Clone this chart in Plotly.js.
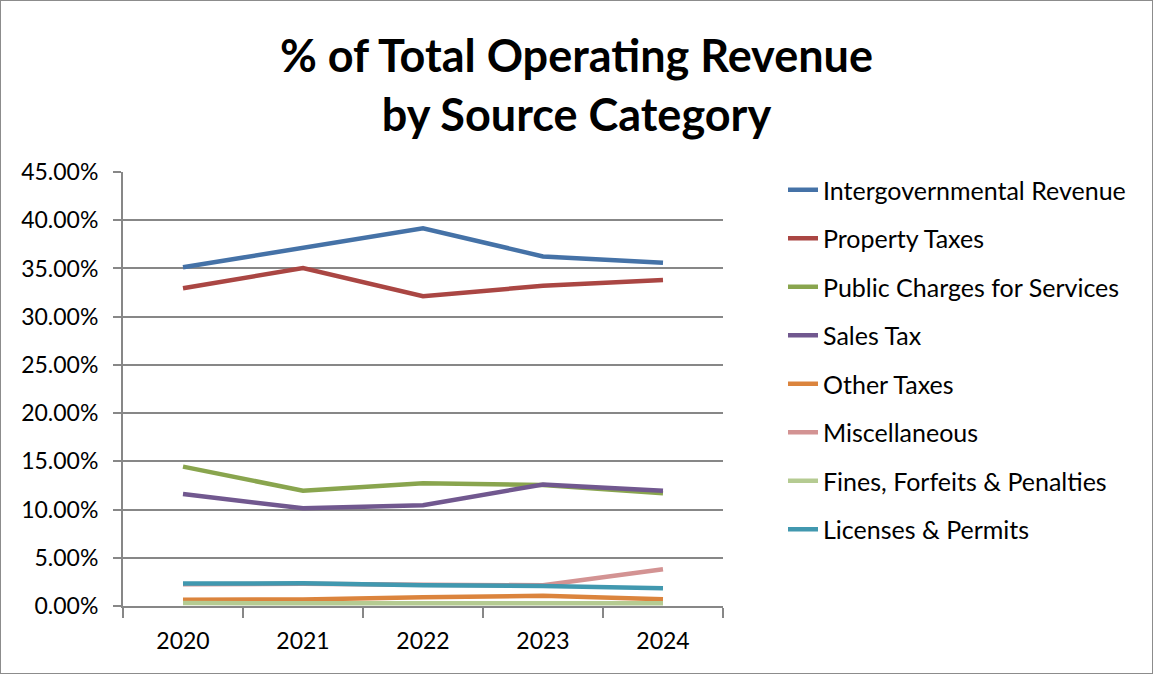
<!DOCTYPE html>
<html>
<head>
<meta charset="utf-8">
<script src="https://cdn.plot.ly/plotly-3.0.1.min.js"></script>
<style>
html,body{margin:0;padding:0;background:#fff;}
#wrap{width:1151px;height:672px;border:1px solid #8c8c8c;}
#chart{width:1151px;height:672px;}
</style>
</head>
<body>
<div id="wrap"><div id="chart"></div></div>
<script>
const years = ["2020", "2021", "2022", "2023", "2024"];
const intergovernmental = [35.12, 37.19, 39.16, 36.25, 35.6];
const propertyTaxes = [32.94, 35.05, 32.12, 33.2, 33.8];
const publicCharges = [14.45, 11.96, 12.72, 12.55, 11.7];
const salesTax = [11.61, 10.13, 10.45, 12.6, 11.95];
const otherTaxes = [0.65, 0.68, 0.9, 1.05, 0.7];
const miscellaneous = [2.25, 2.3, 2.2, 2.15, 3.8];
const fines = [0.3, 0.3, 0.3, 0.3, 0.28];
const licenses = [2.33, 2.35, 2.14, 2.07, 1.85];

const seriesNames = ["Intergovernmental Revenue", "Property Taxes", "Public Charges for Services",
  "Sales Tax", "Other Taxes", "Miscellaneous", "Fines, Forfeits & Penalties", "Licenses & Permits"];
const seriesValues = [intergovernmental, propertyTaxes, publicCharges, salesTax, otherTaxes, miscellaneous, fines, licenses];
const colors = ["#4572A7", "#AA4643", "#89A54E", "#71588F", "#DB843D", "#D39393", "#B5CB92", "#4198AF"];

const font = "Lato, 'Noto Sans', sans-serif";

const traces = seriesNames.map((n, i) => ({
  x: years, y: seriesValues[i], name: n, type: "scatter", mode: "lines",
  legendgroup: "g" + i,
  line: {color: colors[i], width: 4.5},
  hoverinfo: "x+y+name"
}));

const layout = {
  width: 1151, height: 672,
  margin: {l: 122, r: 429, t: 171, b: 67, pad: 0, autoexpand: false},
  paper_bgcolor: "#fff", plot_bgcolor: "#fff",
  font: {family: font, size: 23, color: "#000"},
  title: {
    text: "<b>% of Total Operating Revenue<br>by Source Category</b>",
    font: {family: font, size: 45, color: "#000"},
    x: 0.5, xanchor: "center", y: 1 - 71 / 672, yanchor: "top", yref: "container"
  },
  xaxis: {
    type: "category", range: [-0.5, 4.5],
    showline: true, linecolor: "#878787", linewidth: 2,
    ticks: "outside", tickson: "boundaries", ticklen: 10, tickcolor: "#878787", tickwidth: 2,
    ticklabelstandoff: 13,
    showgrid: false, zeroline: false,
    tickfont: {family: font, size: 23, color: "#000"}
  },
  yaxis: {
    range: [0, 45], dtick: 5, tick0: 0,
    tickformat: ".2f", ticksuffix: "%",
    showline: true, linecolor: "#878787", linewidth: 2,
    ticks: "outside", ticklen: 8, tickcolor: "#878787", tickwidth: 2,
    ticklabelstandoff: 10,
    showgrid: true, gridcolor: "#878787", gridwidth: 2,
    zeroline: false,
    tickfont: {family: font, size: 23, color: "#000"}
  },
  showlegend: true,
  legend: {
    x: 1.1, xanchor: "left", y: 1.0115, yanchor: "top",
    traceorder: "grouped", tracegroupgap: 13, maxheight: 640,
    font: {family: font, size: 25, color: "#000"},
    bgcolor: "rgba(0,0,0,0)", borderwidth: 0
  }
};

Plotly.newPlot("chart", traces, layout, {displayModeBar: false});
</script>
</body>
</html>
